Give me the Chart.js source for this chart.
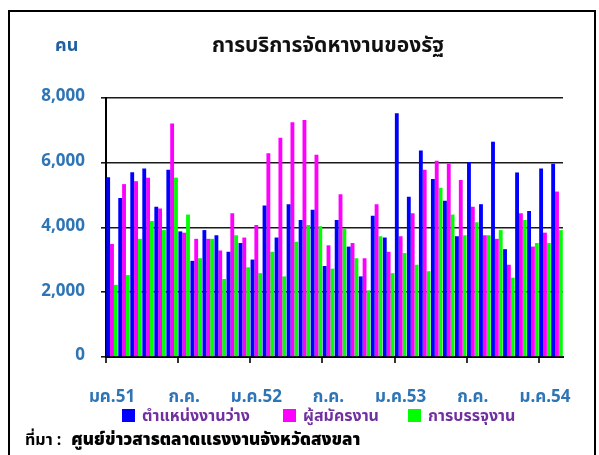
<!DOCTYPE html>
<html lang="th">
<head>
<meta charset="UTF-8" />
<title>การบริการจัดหางานของรัฐ</title>
<script src="https://cdn.jsdelivr.net/npm/chart.js"></script>
<style>
  html, body { margin: 0; padding: 0; background: #fff; }
  body { width: 599px; height: 455px; position: relative; overflow: hidden;
         font-family: "Noto Sans Thai", "Noto Sans", "DejaVu Sans", sans-serif; font-weight: bold; }
  .frame { position: absolute; left: 8px; top: 10px; width: 588px; height: 470px; border: 2px solid #000; box-sizing: border-box; }
  #chart { position: absolute; left: 0; top: 0; }
  .unit { position: absolute; left: 55px; top: 32px; color: #1f5f9f; font-size: 18px; }
  .title { position: absolute; left: 178px; top: 30px; width: 300px; text-align: center; font-size: 21px; color: #111; }
  .legend { position: absolute; top: 404px; left: 122px; font-size: 16px; color: #7030a0; white-space: nowrap; }
  .legend span { position: absolute; top: 0; }
  .legend i { display: inline-block; width: 13px; height: 13px; vertical-align: -1px; margin-right: 7px; }
  .source { position: absolute; left: 25px; top: 427px; font-size: 16px; color: #000; white-space: nowrap; }
  .source b { margin-left: 10px; font-size: 17px; }
</style>
</head>
<body>
<div class="frame"></div>
<canvas id="chart" width="599" height="455"></canvas>
<div class="unit">คน</div>
<div class="title">การบริการจัดหางานของรัฐ</div>
<div class="legend" id="legend"></div>
<div class="source">ที่มา :<b>ศูนย์ข่าวสารตลาดแรงงานจังหวัดสงขลา</b></div>

<script>
  // เดือน ม.ค.51 - ก.พ.54
  const months = [
    'ม.ค.51','ก.พ.51','มี.ค.51','เม.ย.51','พ.ค.51','มิ.ย.51','ก.ค.51','ส.ค.51','ก.ย.51','ต.ค.51','พ.ย.51','ธ.ค.51',
    'ม.ค.52','ก.พ.52','มี.ค.52','เม.ย.52','พ.ค.52','มิ.ย.52','ก.ค.52','ส.ค.52','ก.ย.52','ต.ค.52','พ.ย.52','ธ.ค.52',
    'ม.ค.53','ก.พ.53','มี.ค.53','เม.ย.53','พ.ค.53','มิ.ย.53','ก.ค.53','ส.ค.53','ก.ย.53','ต.ค.53','พ.ย.53','ธ.ค.53',
    'ม.ค.54','ก.พ.54'
  ];
  const xTickLabels = ['มค.51', 'ก.ค.', 'ม.ค.52', 'ก.ค.', 'ม.ค.53', 'ก.ค.', 'ม.ค.54'];
  const yTicks = [0, 2000, 4000, 6000, 8000];

  const seriesNames = ['ตำแหน่งงานว่าง', 'ผู้สมัครงาน', 'การบรรจุงาน'];
  const seriesColors = ['#0000ff', '#ff00ff', '#00ff00'];

  const vacancies = [
    5550, 4910, 5710, 5820, 4640, 5780, 3880, 2970, 3920, 3760, 3250, 3520,
    3010, 4680, 3690, 4720, 4230, 4550, 2810, 4230, 3410, 2490, 4360, 3690,
    7530, 4950, 6380, 5500, 4830, 3730, 6020, 4720, 6650, 3330, 5700, 4510,
    5820, 5970
  ];
  const applicants = [
    3490, 5340, 5430, 5540, 4590, 7210, 3840, 3650, 3650, 3290, 4440, 3690,
    4080, 6290, 6770, 7250, 7320, 6250, 3450, 5030, 3520, 3050, 4720, 3250,
    3730, 4440, 5780, 6060, 5970, 5470, 4640, 3760, 3650, 2850, 4440, 3410,
    3840, 5110
  ];
  const placements = [
    2230, 2530, 3650, 4200, 3920, 5540, 4400, 3050, 3650, 2410, 3760, 2770,
    2590, 3250, 2490, 3560, 4080, 4040, 2730, 3960, 3050, 2060, 3730, 2590,
    3210, 2850, 2650, 5230, 4400, 3760, 4160, 3760, 3920, 2450, 4230, 3520,
    3520, 3920
  ];

  const fontFamily = '"Noto Sans Thai", "Noto Sans", "DejaVu Sans", sans-serif';
  const axisBlue = '#2e75b6';

  const ctx = document.getElementById('chart').getContext('2d');
  const chart = new Chart(ctx, {
    type: 'bar',
    data: {
      labels: months,
      datasets: [vacancies, applicants, placements].map((d, i) => ({
        label: seriesNames[i],
        data: d,
        backgroundColor: seriesColors[i],
        borderWidth: 0,
        categoryPercentage: 0.96,
        barPercentage: 1.0
      }))
    },
    options: {
      responsive: false,
      animation: false,
      layout: { padding: { left: 20, right: 36, top: 98, bottom: 40 } },
      plugins: {
        legend: { display: false },
        tooltip: { enabled: false }
      },
      scales: {
        x: {
          offset: true,
          afterFit: s => { s.height = 58; },
          border: { color: '#000', width: 2 },
          grid: {
            offset: true,
            drawOnChartArea: false,
            tickLength: 6,
            lineWidth: 2,
            color: c => (c.index % 6 === 0 ? '#333' : 'rgba(0,0,0,0)')
          },
          ticks: {
            autoSkip: false,
            maxRotation: 0,
            minRotation: 0,
            padding: 25,
            color: axisBlue,
            font: { family: fontFamily, size: 17, weight: 'bold' },
            callback: (v, i) => (i % 6 === 0 ? xTickLabels[i / 6] : '')
          }
        },
        y: {
          min: yTicks[0],
          max: yTicks[yTicks.length - 1],
          afterFit: s => { s.width = 86; },
          afterBuildTicks: s => { s.ticks = yTicks.map(v => ({ value: v })); },
          border: { color: '#000', width: 2 },
          grid: {
            color: '#1a1a1a',
            lineWidth: 1.6,
            borderDash: [3, 1.5],
            tickLength: 5,
            tickBorderDash: []
          },
          ticks: {
            padding: 16,
            color: axisBlue,
            font: { family: fontFamily, size: 17, weight: 'bold' },
            callback: v => v.toLocaleString('en-US')
          }
        }
      }
    }
  });

  // legend
  const legendPos = [0, 161, 286];
  const legend = document.getElementById('legend');
  seriesNames.forEach((name, i) => {
    const item = document.createElement('span');
    item.style.left = legendPos[i] + 'px';
    item.innerHTML = '<i style="background:' + seriesColors[i] + '"></i>' + name;
    legend.appendChild(item);
  });
</script>
</body>
</html>
